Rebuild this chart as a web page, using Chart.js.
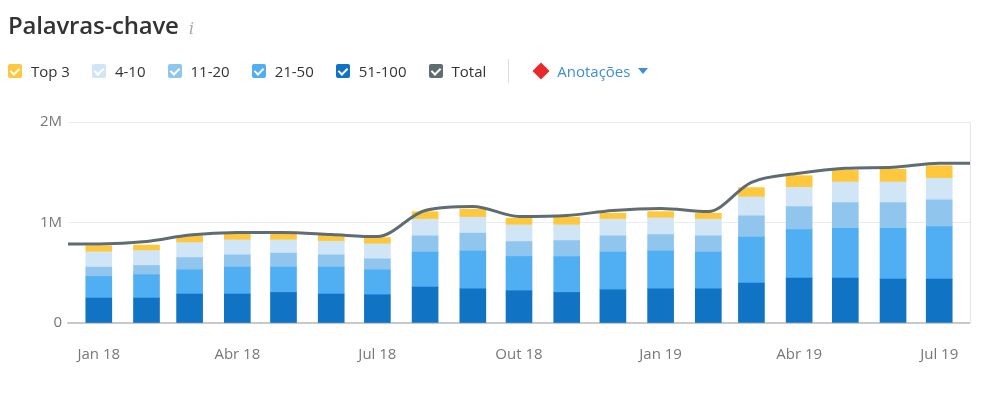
<!DOCTYPE html>
<html lang="pt">
<head>
<meta charset="utf-8">
<script src="https://cdn.jsdelivr.net/npm/chart.js@4.4.1/dist/chart.umd.min.js"></script>
<style>
  html, body { margin: 0; padding: 0; background: #fff; }
  body { width: 984px; height: 393px; position: relative; overflow: hidden; font-family: "Open Sans", "Noto Sans", sans-serif; }
  #title { position: absolute; left: 8px; top: 8px; font-size: 24px; font-weight: 600; color: #333; letter-spacing: -0.2px; }
  #title i { font-family: "DejaVu Serif", serif; font-size: 17px; color: #aaa; font-weight: normal; margin-left: 10px; }
  #legend { position: absolute; left: 8px; top: 59px; display: flex; align-items: center; font-size: 15px; color: #333; }
  .item { display: flex; align-items: center; margin-right: 22px; }
  .box { width: 14px; height: 14px; border-radius: 2px; margin-right: 9px; position: relative; }
  .box::after { content: ""; position: absolute; left: 4px; top: 2px; width: 4px; height: 7px; border: solid #fff; border-width: 0 2px 2px 0; transform: rotate(45deg); }
  .sep { width: 1px; height: 24px; background: #ddd; margin: 0 22px 0 0; }
  .diamond { width: 12px; height: 12px; background: #e8282b; transform: rotate(45deg); margin: 0 10px 0 4px; }
  .ann { color: #3d8fd8; display: flex; align-items: center; }
  .tri { width: 0; height: 0; border-left: 5px solid transparent; border-right: 5px solid transparent; border-top: 6px solid #3d8fd8; margin-left: 8px; }
  #wrap { position: absolute; left: 0; top: 0; width: 984px; height: 393px; }
</style>
</head>
<body>
<div id="wrap"><canvas id="grafico"></canvas></div>
<div id="title">Palavras-chave<i>i</i></div>
<div id="legend"></div>
<script>
// meses (Jan 18 .. Jul 19)
const months = ['2018-01','2018-02','2018-03','2018-04','2018-05','2018-06','2018-07','2018-08','2018-09','2018-10',
  '2018-11','2018-12','2019-01','2019-02','2019-03','2019-04','2019-05','2019-06','2019-07'];
const tickMonths = ['2018-01','2018-04','2018-07','2018-10','2019-01','2019-04','2019-07'];
const tickLabels = ['Jan 18','Abr 18','Jul 18','Out 18','Jan 19','Abr 19','Jul 19'];

// valores em milhões
const pos51_100 = [0.248,0.248,0.288,0.288,0.304,0.288,0.281,0.357,0.340,0.321,0.304,0.331,0.340,0.340,0.397,0.447,0.447,0.437,0.437];
const pos21_50  = [0.215,0.232,0.241,0.268,0.252,0.268,0.248,0.348,0.375,0.341,0.358,0.374,0.375,0.365,0.457,0.483,0.496,0.506,0.523];
const pos11_20  = [0.093,0.092,0.122,0.122,0.139,0.122,0.109,0.162,0.179,0.148,0.158,0.162,0.165,0.162,0.212,0.228,0.255,0.255,0.265];
const pos4_10   = [0.152,0.149,0.149,0.149,0.132,0.136,0.149,0.166,0.159,0.166,0.156,0.166,0.166,0.166,0.188,0.192,0.205,0.205,0.215];
const top3      = [0.060,0.054,0.067,0.057,0.057,0.060,0.063,0.075,0.079,0.067,0.077,0.059,0.062,0.059,0.093,0.116,0.116,0.126,0.125];
const total     = [0.786,0.810,0.875,0.900,0.900,0.880,0.860,1.120,1.160,1.060,1.070,1.120,1.140,1.110,1.400,1.490,1.540,1.550,1.590];

const colors = { top3: '#ffc83c', p4: '#d0e6f7', p11: '#90c5ee', p21: '#50aef2', p51: '#1173c3', total: '#5f6d72' };

const DAY = 86400000;
const t0 = Date.parse('2018-01-01');
const toDay = m => Math.round((Date.parse(m + '-01') - t0) / DAY);
const days = months.map(toDay);
const xMin = -20, xMax = 566;

const pts = arr => arr.map((v, i) => ({ x: days[i], y: v * 1e6 }));
const totalPts = [{ x: xMin, y: total[0] * 1e6 }, ...pts(total), { x: xMax, y: total[total.length - 1] * 1e6 }];

// legenda html
const legendItems = [
  ['Top 3', colors.top3], ['4-10', colors.p4], ['11-20', colors.p11],
  ['21-50', colors.p21], ['51-100', colors.p51], ['Total', colors.total]
];
const legend = document.getElementById('legend');
legendItems.forEach(([txt, c]) => {
  const el = document.createElement('div');
  el.className = 'item';
  el.innerHTML = '<span class="box" style="background:' + c + '"></span><span>' + txt + '</span>';
  legend.appendChild(el);
});
legend.insertAdjacentHTML('beforeend', '<span class="sep"></span><span class="diamond"></span><span class="ann">Anotações<span class="tri"></span></span>');

const rightBorder = {
  id: 'rightBorder',
  afterDraw(chart) {
    const { ctx, chartArea } = chart;
    ctx.save();
    ctx.strokeStyle = '#e3e6e8';
    ctx.lineWidth = 1;
    ctx.beginPath();
    ctx.moveTo(chartArea.right + 0.5, chartArea.top);
    ctx.lineTo(chartArea.right + 0.5, chartArea.bottom);
    ctx.stroke();
    ctx.restore();
  }
};

const bar = (label, data, color) => ({
  type: 'bar', label, data: pts(data), backgroundColor: color,
  barThickness: 26, stack: 'kw', order: 1, borderWidth: 0
});

new Chart(document.getElementById('grafico').getContext('2d'), {
  data: {
    datasets: [
      {
        type: 'line', label: 'Total', data: totalPts, borderColor: colors.total,
        borderWidth: 3, pointRadius: 0, cubicInterpolationMode: 'monotone',
        fill: false, stack: 'total', order: 0
      },
      bar('51-100', pos51_100, colors.p51),
      bar('21-50', pos21_50, colors.p21),
      bar('11-20', pos11_20, colors.p11),
      bar('4-10', pos4_10, colors.p4),
      bar('Top 3', top3, colors.top3)
    ]
  },
  options: {
    responsive: true,
    maintainAspectRatio: false,
    animation: false,
    layout: { padding: { top: 122, right: 14, left: 0, bottom: 0 } },
    plugins: { legend: { display: false }, tooltip: { enabled: false } },
    scales: {
      x: {
        type: 'linear', min: xMin, max: xMax, stacked: true, offset: false,
        grid: { display: false, drawTicks: false },
        border: { display: true, color: '#c6c9ce', width: 1.5 },
        afterBuildTicks: s => { s.ticks = tickMonths.map(m => ({ value: toDay(m) })); },
        afterFit: s => { s.height = 70; },
        ticks: {
          padding: 23, color: '#777', font: { family: 'Open Sans', size: 15 }, maxRotation: 0,
          autoSkip: false,
          callback: v => tickLabels[tickMonths.map(toDay).indexOf(v)]
        }
      },
      y: {
        stacked: true, min: 0, max: 2e6,
        border: { display: false },
        afterFit: s => { s.width = 68; },
        grid: { color: c => c.tick.value === 0 ? '#c6c9ce' : '#e8ecee', drawTicks: false },
        ticks: {
          stepSize: 1e6, padding: 6, color: '#777', font: { family: 'Open Sans', size: 15 },
          callback: v => v === 0 ? '0' : (v / 1e6) + 'M'
        }
      }
    }
  },
  plugins: [rightBorder]
});
</script>
</body>
</html>
